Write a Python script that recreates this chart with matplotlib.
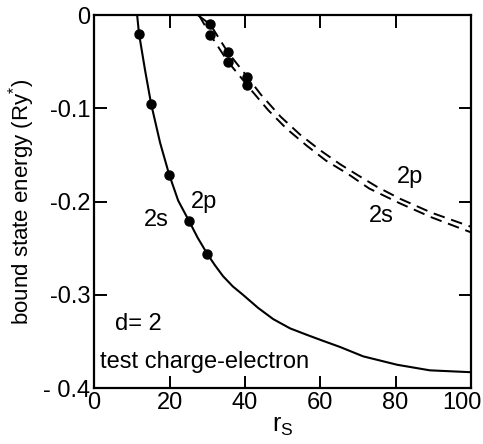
import matplotlib.pyplot as plt
from matplotlib.transforms import ScaledTranslation

plt.rcParams['font.family'] = ['Liberation Sans', 'DejaVu Sans']

# solid curve (2s/2p, test charge-electron)
rs_solid = [11.4, 11.9, 13.5, 15.1, 17.5, 19.9, 22.3, 25.2, 27.5, 30.0, 32.0,
            34.2, 36.8, 39.5, 43.5, 47.5, 52.0, 56.5, 60.5, 65.3, 71.4, 80.4,
            89.1, 100]
e_solid = [0, -0.020, -0.059, -0.095, -0.137, -0.171, -0.199, -0.221, -0.239,
           -0.256, -0.268, -0.280, -0.291, -0.300, -0.314, -0.326, -0.336,
           -0.343, -0.349, -0.356, -0.366, -0.375, -0.381, -0.383]
rs_solid_pts = [11.9, 15.1, 19.9, 25.2, 30.0]
e_solid_pts = [-0.020, -0.095, -0.171, -0.221, -0.256]

# dashed curves
rs_2p = [27.5, 30.8, 35.5, 40.6, 44.2, 49.5, 54.6, 60.0, 65.3, 70.1, 75, 81.2, 89.6, 100]
e_2p = [0, -0.010, -0.040, -0.066, -0.085, -0.109, -0.128, -0.145, -0.160,
        -0.172, -0.184, -0.197, -0.212, -0.227]
rs_2s = [27.8, 30.8, 35.5, 40.6, 42.0, 46.2, 51.1, 56.4, 61.5, 67.6, 73, 81.2, 89.6, 100]
e_2s = [0, -0.021, -0.050, -0.075, -0.082, -0.102, -0.122, -0.140, -0.156,
        -0.171, -0.186, -0.202, -0.217, -0.233]
rs_dash_pts = [30.8, 30.8, 35.5, 35.5, 40.6, 40.6]
e_dash_pts = [-0.010, -0.021, -0.040, -0.050, -0.066, -0.075]

xticks = [0, 20, 40, 60, 80, 100]
yticks = [0, -0.1, -0.2, -0.3, -0.4]
ytick_labels = ['0', '-0.1', '-0.2', '-0.3', '- 0.4']

fig = plt.figure(figsize=(4.83, 4.44), dpi=100)
ax = fig.add_axes([0.195, 0.126, 0.78, 0.840])

ax.plot(rs_solid, e_solid, color='black', lw=1.5)
ax.plot(rs_solid_pts, e_solid_pts, 'o', color='black', ms=6.5)
ax.plot(rs_2p, e_2p, color='black', lw=1.4, dashes=(6, 3.5))
ax.plot(rs_2s, e_2s, color='black', lw=1.4, dashes=(6, 3.5))
ax.plot(rs_dash_pts, e_dash_pts, 'o', color='black', ms=6.5)

fs = 17
ax.text(16.5, -0.220, '2s', fontsize=fs, ha='center', va='center')
ax.text(29.2, -0.200, '2p', fontsize=fs, ha='center', va='center')
ax.text(83.8, -0.174, '2p', fontsize=fs, ha='center', va='center')
ax.text(76.1, -0.216, '2s', fontsize=fs, ha='center', va='center')
ax.text(5.5, -0.331, 'd= 2', fontsize=fs, ha='left', va='center')
ax.text(1.6, -0.372, 'test charge-electron', fontsize=fs, ha='left', va='center')

ax.set_xlim(0, 100)
ax.set_ylim(-0.4, 0)
ax.set_xticks(xticks)
ax.set_xticklabels([str(t) for t in xticks])
ax.set_yticks(yticks)
ax.set_yticklabels(ytick_labels)
ax.tick_params(direction='in', length=9, width=1.4, top=True, right=True,
               labelsize=fs, pad=3)
# keep "100" inside the picture, as in the original
last = ax.get_xticklabels()[-1]
last.set_ha('right')
last.set_transform(last.get_transform() + ScaledTranslation(0.11, 0, fig.dpi_scale_trans))
for s in ax.spines.values():
    s.set_linewidth(1.6)

ax.set_xlabel('r$_\\mathregular{S}$', fontsize=fs + 1, labelpad=0)
ax.set_ylabel('bound state energy (Ry$^\\mathregular{*}$)', fontsize=16, labelpad=4)

fig.savefig('out.png', dpi=100)
